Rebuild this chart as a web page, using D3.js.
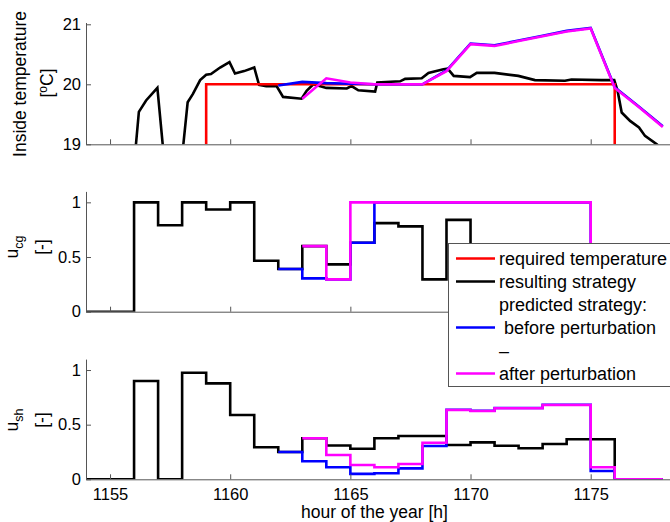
<!DOCTYPE html>
<html>
<head>
<meta charset="utf-8">
<script src="https://cdn.jsdelivr.net/npm/d3@7"></script>
<style>
  body { margin: 0; background: #fff; }
  text { font-family: "Liberation Sans", Arial, sans-serif; fill: #000; }
  .ejes path, .ejes line { stroke: #555; stroke-width: 1; }
  .ejes text { font-size: 16.5px; }
</style>
</head>
<body>
<div id="graf"></div>
<script>
// Datos
const tempHours = [1155.5, 1156.0, 1156.2, 1156.5, 1156.97, 1157.25, 1157.6, 1158.0, 1158.23, 1158.45,
  1158.75, 1159.0, 1159.2, 1159.58, 1159.97, 1160.2, 1160.58, 1161.0, 1161.2, 1161.5,
  1161.93, 1162.2, 1162.97, 1163.18, 1163.46, 1164.0, 1164.85, 1165.05, 1165.33, 1166.03,
  1166.12, 1167.07, 1167.28, 1167.97, 1168.25, 1168.87, 1169.05, 1169.3, 1169.98, 1170.26,
  1171.0, 1171.99, 1172.68, 1173.93, 1174.2, 1175.45, 1175.98, 1176.12, 1176.29, 1176.64,
  1177.01, 1177.26, 1177.75, 1178.0]
const tempResult = [18.3, 18.65, 19.54, 19.73, 19.94, 18.75, 18.4, 18.8, 19.70, 19.84,
  20.07, 20.16, 20.17, 20.28, 20.37, 20.18, 20.22, 20.28, 19.99, 19.97,
  19.97, 19.79, 19.76, 19.89, 20.0, 19.94, 19.93, 19.97, 19.9, 19.88,
  20.03, 20.05, 20.09, 20.1, 20.19, 20.25, 20.26, 20.14, 20.12, 20.19,
  20.19, 20.14, 20.07, 20.06, 20.08, 20.07, 20.07, 19.89, 19.53, 19.39,
  19.28, 19.14, 19.0, 18.9]

const reqHours = [1159, 1159, 1176, 1176]
const reqTemp = [19, 20, 20, 19]

// predicted temperature (hourly)
const tempBeforeStart = 1162
const tempBefore = [19.98, 20.04, 20.02, 20.01, 20.0, 20.0, 20.0, 20.23, 20.68, 20.65,
  20.73, 20.81, 20.89, 20.94, 19.95, 19.63, 19.30]
const tempAfterStart = 1163
const tempAfter = [19.76, 20.10, 20.03, 20.0, 20.0, 20.0, 20.22, 20.67, 20.64, 20.72,
  20.80, 20.88, 20.93, 19.94, 19.62, 19.29]

// u_cg (hourly steps)
const cgResultStart = 1154
const cgResult = [0, 0, 1.0, 0.79, 1.0, 0.935, 1.0, 0.466, 0.39, 0.6,
  0.433, 0.63, 0.81, 0.78, 0.296, 0.84, 0.35, 0.55, 0.45, 0.4, 0.5, 0.5, 0, 0]
const cgBeforeStart = 1162
const cgBefore = [0.39, 0.305, 0.296, 0.63, 1, 1, 1, 1, 1, 1, 1, 1, 1, 0, 0, 0]
const cgAfterStart = 1163
const cgAfter = [0.6, 0.296, 1, 1, 1, 1, 1, 1, 1, 1, 1, 1, 0, 0, 0]

// u_sh (hourly steps)
const shResultStart = 1154
const shResult = [0, 0, 0.90, 0, 0.975, 0.878, 0.588, 0.293, 0.25, 0.375,
  0.31, 0.28, 0.375, 0.396, 0.396, 0.314, 0.338, 0.307, 0.284, 0.323, 0.366, 0.366, 0, 0]
const shBeforeStart = 1162
const shBefore = [0.25, 0.165, 0.11, 0.05, 0.055, 0.10, 0.305, 0.636, 0.627, 0.652,
  0.652, 0.682, 0.682, 0.076, 0, 0]
const shAfterStart = 1163
const shAfter = [0.375, 0.222, 0.131, 0.11, 0.14, 0.335, 0.634, 0.625, 0.65, 0.65,
  0.68, 0.68, 0.11, 0, 0]

const xTicks = [1155, 1160, 1165, 1170, 1175]
const tempTicks = [19, 20, 21]
const uTicks = [0, 0.5, 1]

const legendLabels = ["required temperature", "resulting strategy", "predicted strategy:",
  " before perturbation", "\u2013", "after perturbation"]
const legendColors = ["#ff0000", "#000000", null, "#0000ff", null, "#ff00ff"]

const colores = { req: "#ff0000", res: "#000000", before: "#0000ff", after: "#ff00ff" }

// Figura
const anchoTotal = 670
const altoTotal = 522

const svg = d3.select("#graf")
  .append("svg")
  .attr("width", anchoTotal)
  .attr("height", altoTotal)

const x = d3.scaleLinear().domain([1154, 1178.3]).range([86, 670])

const paneles = [
  { id: "temp", domain: [19, 21.03], range: [144.3, 22.5], ticks: tempTicks, fmt: d3.format("d") },
  { id: "cg", domain: [0, 1.1], range: [311.7, 191.4], ticks: uTicks, fmt: (d) => d },
  { id: "sh", domain: [0, 1.1], range: [479.3, 359.1], ticks: uTicks, fmt: (d) => d }
]

paneles.forEach((p, i) => {
  p.y = d3.scaleLinear().domain(p.domain).range(p.range)
  p.g = svg.append("g")

  svg.append("clipPath")
    .attr("id", "clip-" + p.id)
    .append("rect")
    .attr("x", x.range()[0])
    .attr("y", p.range[1])
    .attr("width", x.range()[1] - x.range()[0])
    .attr("height", p.range[0] - p.range[1])

  p.data = p.g.append("g").attr("clip-path", `url(#clip-${p.id})`)

  const xAxis = d3.axisBottom(x)
    .tickValues(xTicks)
    .tickSizeInner(-5)
    .tickSizeOuter(0)
    .tickPadding(9)
    .tickFormat(i === 2 ? d3.format("d") : () => "")
  p.g.append("g")
    .attr("class", "ejes")
    .attr("transform", `translate(0, ${p.range[0]})`)
    .call(xAxis)

  const yAxis = d3.axisLeft(p.y)
    .tickValues(p.ticks)
    .tickSizeInner(-5)
    .tickSizeOuter(0)
    .tickPadding(5)
    .tickFormat(p.fmt)
  p.g.append("g")
    .attr("class", "ejes")
    .attr("transform", `translate(${x.range()[0]}, 0)`)
    .call(yAxis)
})

// helpers
const pares = (xs, ys) => xs.map((h, i) => [h, ys[i]])
const horas = (start, vals) => vals.map((v, i) => [start + i, v])
const escalones = (start, vals) => {
  const pts = horas(start, vals)
  pts.push([start + vals.length, vals[vals.length - 1]])
  return pts
}

const dibujar = (p, pts, color, curve) => {
  const line = d3.line()
    .x((d) => x(d[0]))
    .y((d) => p.y(d[1]))
    .curve(curve || d3.curveLinear)
  p.data.append("path")
    .datum(pts)
    .attr("d", line)
    .attr("fill", "none")
    .attr("stroke", color)
    .attr("stroke-width", 2.6)
    .attr("stroke-linejoin", "miter")
}

// Panel temperatura
const [pT, pC, pS] = paneles
dibujar(pT, pares(tempHours, tempResult), colores.res)
dibujar(pT, pares(reqHours, reqTemp), colores.req)
dibujar(pT, horas(tempBeforeStart, tempBefore), colores.before)
dibujar(pT, horas(tempAfterStart, tempAfter), colores.after)

// Panel u_cg
dibujar(pC, escalones(cgResultStart, cgResult), colores.res, d3.curveStepAfter)
dibujar(pC, escalones(cgBeforeStart, cgBefore), colores.before, d3.curveStepAfter)
dibujar(pC, escalones(cgAfterStart, cgAfter), colores.after, d3.curveStepAfter)

// Panel u_sh
dibujar(pS, escalones(shResultStart, shResult), colores.res, d3.curveStepAfter)
dibujar(pS, escalones(shBeforeStart, shBefore), colores.before, d3.curveStepAfter)
dibujar(pS, escalones(shAfterStart, shAfter), colores.after, d3.curveStepAfter)

// Etiquetas de ejes
const yLabel = (cy, bx) => svg.append("text")
  .attr("transform", `translate(${bx}, ${cy}) rotate(-90)`)
  .attr("text-anchor", "middle")
  .style("font-size", "17.5px")

yLabel(84, 26).text("Inside temperature")
const tC = yLabel(83, 53)
tC.append("tspan").text("[")
tC.append("tspan").attr("dy", -6).style("font-size", "12px").text("o")
tC.append("tspan").attr("dy", 6).text("C]")

const tcg = yLabel(247, 18)
tcg.append("tspan").text("u")
tcg.append("tspan").attr("dy", 5).style("font-size", "12.5px").text("cg")
yLabel(247, 47.5).text("[-]")

const tsh = yLabel(420, 18)
tsh.append("tspan").text("u")
tsh.append("tspan").attr("dy", 5).style("font-size", "12.5px").text("sh")
yLabel(420, 47.5).text("[-]")

svg.append("text")
  .attr("x", x(1166))
  .attr("y", 518)
  .attr("text-anchor", "middle")
  .style("font-size", "17.5px")
  .text("hour of the year [h]")

// Leyenda
const leg = svg.append("g")
leg.append("rect")
  .attr("x", 448.5)
  .attr("y", 243.5)
  .attr("width", 240)
  .attr("height", 143)
  .attr("fill", "#fff")
  .attr("stroke", "#555")
  .attr("stroke-width", 1)

const filas = leg.selectAll("g.fila")
  .data(legendLabels)
  .join("g")
  .attr("class", "fila")
  .attr("transform", (d, i) => `translate(0, ${258.5 + i * 23})`)

filas.filter((d, i) => legendColors[i])
  .append("line")
  .attr("x1", 456)
  .attr("x2", 495)
  .attr("stroke", (d, i, n) => legendColors[legendLabels.indexOf(d)])
  .attr("stroke-width", 2.6)

filas.append("text")
  .attr("x", 499)
  .attr("dy", "0.34em")
  .attr("xml:space", "preserve")
  .style("white-space", "pre")
  .style("font-size", "18px")
  .text((d) => d)
</script>
</body>
</html>
